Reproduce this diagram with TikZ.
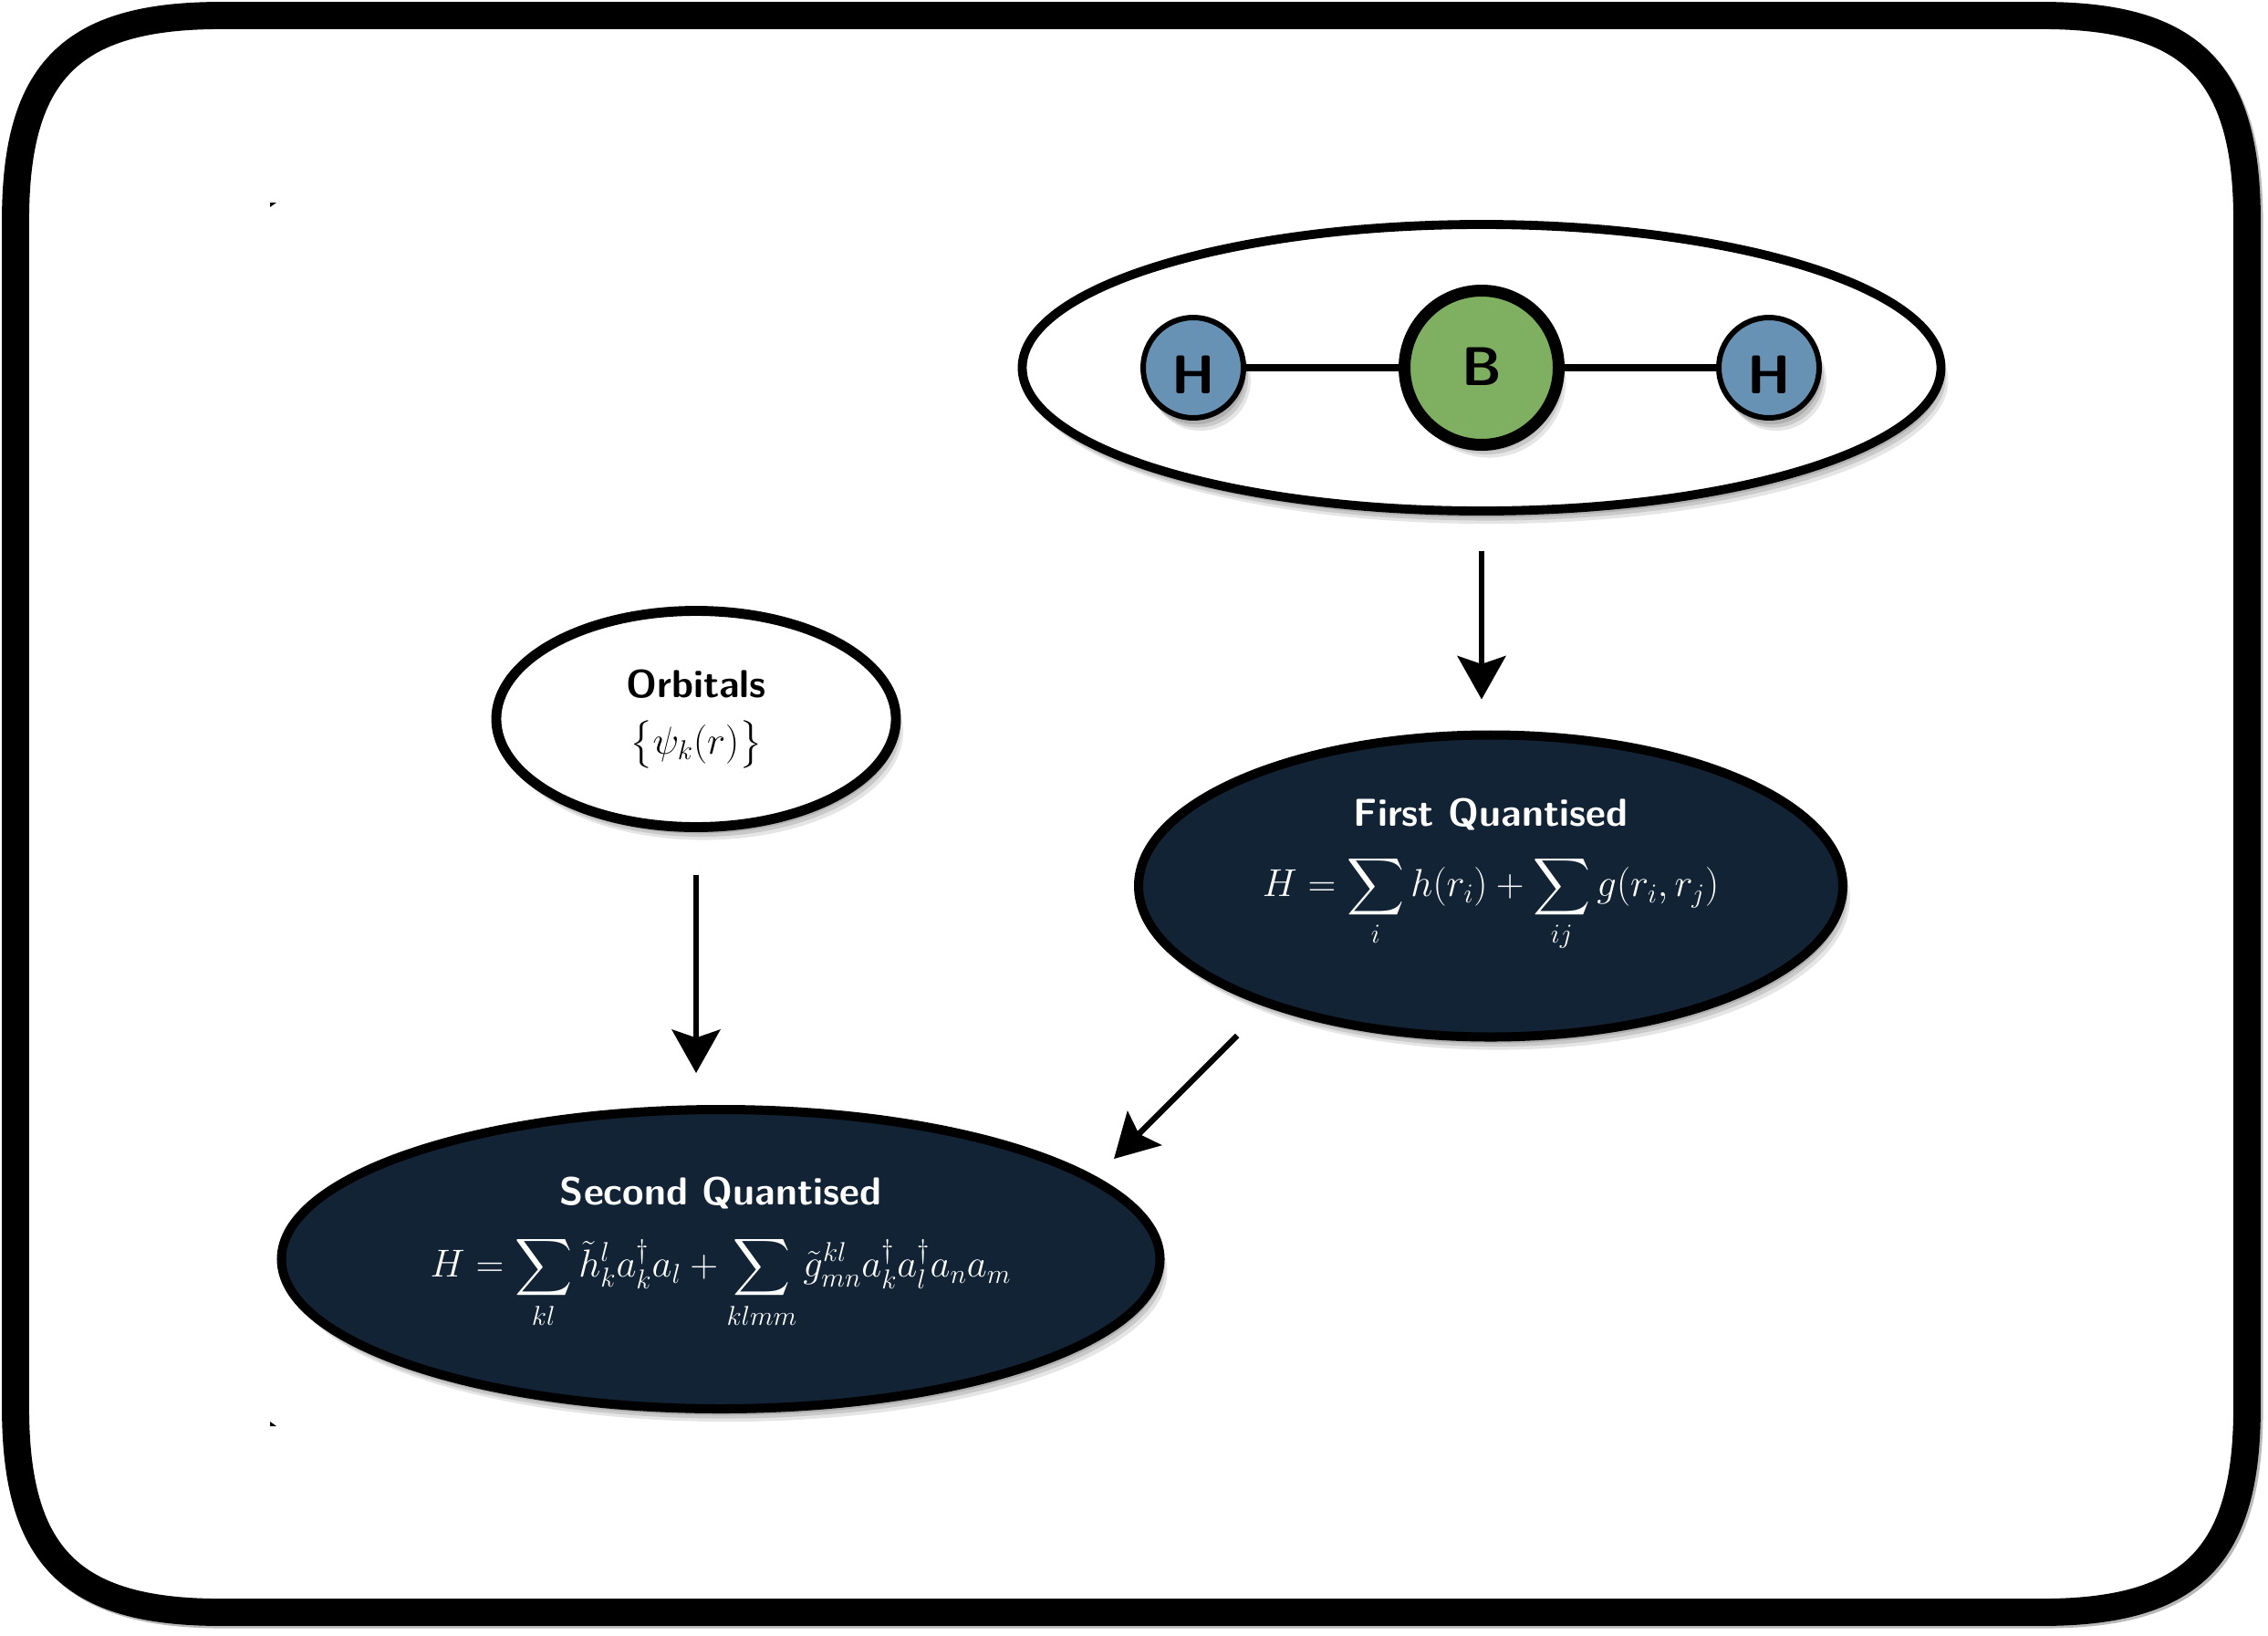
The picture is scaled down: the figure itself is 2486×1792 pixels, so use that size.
\RequirePackage{fix-cm}
\documentclass[tikz,border=0pt]{standalone}
\usepackage{amsmath}
\usetikzlibrary{arrows.meta}
\usetikzlibrary{positioning}
\usetikzlibrary{shapes.geometric}
\usetikzlibrary{shadows}
\definecolor{darknavy}{RGB}{17,35,52}
\definecolor{atomblue}{RGB}{104,146,180}
\definecolor{atomgreen}{RGB}{127,175,96}

\newcommand{\framepath}{(17,242) .. controls (17,78) and (78,17) .. (242,17)
  -- (2238,17) .. controls (2402,17) and (2463,78) .. (2463,242)
  -- (2463,1542) .. controls (2463,1706) and (2402,1767) .. (2238,1767)
  -- (242,1767) .. controls (78,1767) and (17,1706) .. (17,1542) -- cycle}

\tikzset{
  softshadow/.style={
    drop shadow={shadow xshift=1.5pt,shadow yshift=-4pt,opacity=0.12,fill=black},
    drop shadow={shadow xshift=3pt,shadow yshift=-6pt,opacity=0.12,fill=black},
    drop shadow={shadow xshift=4.5pt,shadow yshift=-8pt,opacity=0.10,fill=black}},
  whitebubble/.style={ellipse,draw=black,fill=white,inner sep=0pt,align=center,softshadow},
  darkbubble/.style={ellipse,draw=black,fill=darknavy,text=white,inner sep=0pt,align=center,softshadow},
  atom/.style={circle,draw=black,inner sep=0pt,softshadow,
    font=\fontsize{34}{38}\selectfont\sffamily\bfseries},
  hatom/.style={atom,fill=atomblue,line width=3.4pt,minimum size=2.2cm,text height=32.6pt,text depth=0pt},
  flow/.style={-{Stealth[length=27pt,width=30pt,inset=5pt]},line width=3.6pt,black},
  bond/.style={line width=4.6pt,black},
  bubblefont/.style={font=\fontsize{24.3}{30}\selectfont}
}

\begin{document}
\begin{tikzpicture}[x=0.2mm,y=-0.2mm]
\useasboundingbox (0,0) rectangle (2486,1792);

% Frame
\draw[gray!55,line width=17pt,xshift=1.5pt,yshift=-1.5pt] \framepath;
\fill[white] \framepath;
\draw[line width=17pt] \framepath;

% Molecule
\node[whitebubble,line width=5.6pt,minimum width=20.14cm,minimum height=6.28cm] (molecule) at (1624,403) {};
\node[atom,fill=atomgreen,line width=7.4pt,minimum size=3.38cm,text height=23.6pt,text depth=1.5pt] (boron) at (1624,403) {B};
\node[hatom] (hleft) at (1308,403) {H};
\node[hatom] (hright) at (1939,403) {H};
\draw[bond] (hleft) -- (boron);
\draw[bond] (boron) -- (hright);

% Hamiltonians
\node[darkbubble,bubblefont,line width=5.7pt,minimum width=15.44cm,minimum height=6.62cm] (first) at (1634,971)
  {\textsf{\bfseries First Quantised}\\[14pt]
   $H=\displaystyle\sum_{i}h(r_i)+\sum_{ij}g(r_i,r_j)$\rule[-48pt]{0pt}{0pt}};
\node[darkbubble,bubblefont,line width=5.7pt,minimum width=19.26cm,minimum height=6.56cm] (second) at (790,1380)
  {\textsf{\bfseries Second Quantised}\\[15pt]
   $H=\displaystyle\sum_{kl}\tilde{h}_k^l a_k^\dagger a_l+\sum_{klmm}\tilde{g}_{mn}^{kl}a_k^\dagger a_l^\dagger a_n a_m$\rule[-40pt]{0pt}{0pt}};

% Orbitals
\node[whitebubble,bubblefont,line width=6.2pt,minimum width=8.76cm,minimum height=4.74cm] (orbitals) at (763,788)
  {\textsf{\bfseries Orbitals}\\[5pt]
   $\bigl\{\psi_k(r)\bigr\}$};

% Arrows
\draw[flow,shorten <=0.78cm,shorten >=0.68cm] (molecule.south) -- (molecule.south |- first.north);
\draw[flow,shorten <=0.94cm,shorten >=0.70cm] (orbitals.south) -- (orbitals.south |- second.north);
\coordinate (firstout) at (1356,1135);
\coordinate (secondin) at (1221,1270);
\draw[flow] (firstout) -- (secondin);

% Specks
\fill (296,222) -- (303,222) -- (296,227) -- cycle;
\fill (296,1558) -- (296,1563) -- (303,1563) -- cycle;

\end{tikzpicture}
\end{document}
